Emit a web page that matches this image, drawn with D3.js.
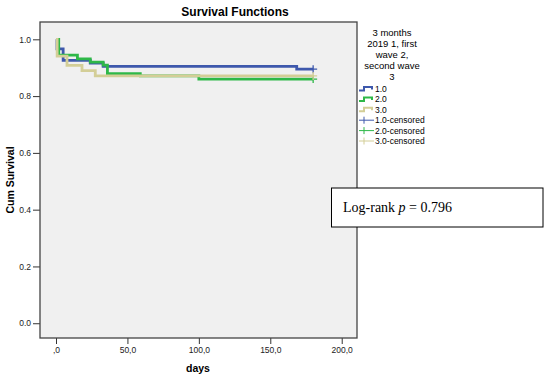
<!DOCTYPE html>
<html>
<head>
<meta charset="utf-8">
<script src="https://cdn.jsdelivr.net/npm/d3@7"></script>
<style>
  body { margin: 0; background: #fff; }
  svg { display: block; font-family: "Liberation Sans", Arial, sans-serif; }
</style>
</head>
<body>
<div id="chart"></div>
<script>
// survival steps (time in days, cum survival)
var group1Times = [0, 0.7, 5, 24, 33, 168.5];
var group1Surv  = [1.0, 0.966, 0.926, 0.916, 0.905, 0.895];
var group2Times = [0, 1.9, 15, 24, 33, 36, 59, 100];
var group2Surv  = [1.0, 0.944, 0.931, 0.920, 0.909, 0.879, 0.871, 0.860];
var group3Times = [0, 0.8, 7.7, 18.2, 27.5];
var group3Surv  = [1.0, 0.941, 0.908, 0.890, 0.871];
var lastTime = [180, 180, 180];

var groupNames = ["1.0", "2.0", "3.0"];
var colors = ["#3e58ac", "#2eb848", "#d3ce97"];
var legendTitle = ["3 months", "2019 1, first", "wave 2,", "second wave", "3"];

var xTicks = [0, 50, 100, 150, 200];
var xTickLabels = [",0", "50,0", "100,0", "150,0", "200,0"];
var yTicks = [0, 0.2, 0.4, 0.6, 0.8, 1.0];
var yTickLabels = ["0.0", "0.2", "0.4", "0.6", "0.8", "1.0"];

var width = 550, height = 377;
var plot = {left: 40, top: 22, right: 357, bottom: 338};

var svg = d3.select("#chart").append("svg")
    .attr("width", width)
    .attr("height", height);

var x = d3.scaleLinear().domain([-11.2, 210.7]).range([plot.left, plot.right]);
var y = d3.scaleLinear().domain([-0.052, 1.061]).range([plot.bottom, plot.top]);

// plot background
svg.append("rect")
    .attr("x", plot.left).attr("y", plot.top)
    .attr("width", plot.right - plot.left)
    .attr("height", plot.bottom - plot.top)
    .attr("fill", "#f0f0f0");

// axes
var yAxis = svg.append("g")
    .attr("transform", "translate(" + plot.left + ",0)")
    .call(d3.axisLeft(y).tickValues(yTicks).tickSize(7).tickPadding(2)
      .tickFormat(function(d, i) { return yTickLabels[i]; }));
var xAxis = svg.append("g")
    .attr("transform", "translate(0," + plot.bottom + ")")
    .call(d3.axisBottom(x).tickValues(xTicks).tickSize(6).tickPadding(3)
      .tickFormat(function(d, i) { return xTickLabels[i]; }));
[yAxis, xAxis].forEach(function(a) {
  a.select(".domain").remove();
  a.selectAll("line").attr("stroke", "#333");
  a.selectAll("text").attr("font-size", "8.5px").attr("fill", "#222")
    .attr("font-family", "Liberation Sans, Arial, sans-serif");
});

// curves
var series = [
  {times: group1Times, surv: group1Surv},
  {times: group2Times, surv: group2Surv},
  {times: group3Times, surv: group3Surv}
];

var line = d3.line()
    .x(function(d) { return x(d[0]); })
    .y(function(d) { return y(d[1]); })
    .curve(d3.curveStepAfter);

series.forEach(function(s, i) {
  var pts = s.times.map(function(t, j) { return [t, s.surv[j]]; });
  pts.push([lastTime[i], s.surv[s.surv.length - 1]]);
  svg.append("path")
      .attr("d", line(pts))
      .attr("fill", "none")
      .attr("stroke", colors[i])
      .attr("stroke-width", 2.8);
  // censored mark at the end
  var cx = x(lastTime[i]), cy = y(s.surv[s.surv.length - 1]);
  svg.append("path")
      .attr("d", "M" + (cx - 4) + "," + cy + "H" + (cx + 4) + "M" + cx + "," + (cy - 4) + "V" + (cy + 4))
      .attr("stroke", colors[i])
      .attr("stroke-width", 1.3);
});

// frame
svg.append("rect")
    .attr("x", plot.left).attr("y", plot.top)
    .attr("width", plot.right - plot.left)
    .attr("height", plot.bottom - plot.top)
    .attr("fill", "none")
    .attr("stroke", "#444")
    .attr("stroke-width", 1.3);

// titles
svg.append("text")
    .attr("x", 235).attr("y", 16)
    .attr("text-anchor", "middle")
    .attr("font-size", "12px").attr("font-weight", "bold")
    .text("Survival Functions");
svg.append("text")
    .attr("x", 198).attr("y", 372)
    .attr("text-anchor", "middle")
    .attr("font-size", "10.5px").attr("font-weight", "bold")
    .text("days");
svg.append("text")
    .attr("transform", "translate(14,180) rotate(-90)")
    .attr("text-anchor", "middle")
    .attr("font-size", "10.5px").attr("font-weight", "bold")
    .text("Cum Survival");

// legend
var lg = svg.append("g");
legendTitle.forEach(function(t, i) {
  lg.append("text")
      .attr("x", 392).attr("y", 35.5 + i * 11)
      .attr("text-anchor", "middle")
      .attr("font-size", "9.5px")
      .text(t);
});
var rowY = function(i) { return 89 + i * 10.4; };
groupNames.forEach(function(g, i) {
  var yy = rowY(i);
  lg.append("path")
      .attr("d", "M359," + (yy + 1.5) + "H364V" + (yy - 2) + "H372V" + (yy + 0.5))
      .attr("fill", "none").attr("stroke", colors[i]).attr("stroke-width", 2);
  lg.append("text").attr("x", 375).attr("y", yy + 3)
      .attr("font-size", "8.5px").text(g);
});
groupNames.forEach(function(g, i) {
  var yy = rowY(i + 3);
  lg.append("path")
      .attr("d", "M359," + yy + "H374M364," + (yy - 3.5) + "V" + (yy + 3.5))
      .attr("stroke", colors[i]).attr("stroke-width", 1);
  lg.append("text").attr("x", 375).attr("y", yy + 3)
      .attr("font-size", "8.5px").text(g + "-censored");
});

// log-rank box
svg.append("rect")
    .attr("x", 331.5).attr("y", 188)
    .attr("width", 211.5).attr("height", 39)
    .attr("fill", "#fff").attr("stroke", "#000").attr("stroke-width", 1);
var lr = svg.append("text")
    .attr("x", 343).attr("y", 212)
    .attr("font-family", "Liberation Serif, DejaVu Serif, serif")
    .attr("font-size", "14px");
lr.append("tspan").text("Log-rank ");
lr.append("tspan").attr("font-style", "italic").text("p");
lr.append("tspan").text(" = 0.796");
</script>
</body>
</html>
